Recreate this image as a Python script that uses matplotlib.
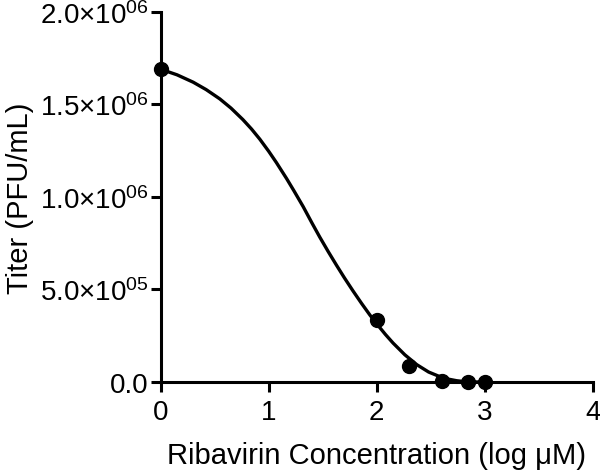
import matplotlib
matplotlib.use('Agg')
import matplotlib.pyplot as plt

plt.rcParams['font.family'] = ['Liberation Sans', 'DejaVu Sans']
plt.rcParams['mathtext.fontset'] = 'custom'
plt.rcParams['mathtext.rm'] = 'Liberation Sans'
plt.rcParams['mathtext.it'] = 'Liberation Sans:italic'

# measured points
conc = [0.0, 2.0, 2.3, 2.6, 2.84, 3.0]
titer = [1.69e6, 3.35e5, 8.6e4, 5e3, 0.0, 0.0]

# fitted curve
curve_x = [0.0, 0.15, 0.30, 0.42, 0.546, 0.65, 0.76, 0.84, 0.917, 1.0,
           1.07, 1.164, 1.23, 1.318, 1.40, 1.472, 1.55, 1.627, 1.70, 1.78,
           1.86, 1.935, 2.0, 2.08, 2.15, 2.26, 2.37, 2.48, 2.58, 2.66,
           2.74, 2.82, 2.9, 3.0]
curve_y = [1.69e6, 1.66e6, 1.62e6, 1.58e6, 1.53e6, 1.48e6, 1.418e6,
           1.367e6, 1.312e6, 1.246e6, 1.186e6, 1.10e6, 1.036e6, 0.948e6,
           0.859e6, 0.783e6, 0.705e6, 0.631e6, 0.563e6, 0.492e6, 0.424e6,
           0.363e6, 0.314e6, 0.257e6, 0.211e6, 0.147e6, 0.094e6, 0.054e6,
           0.030e6, 0.016e6, 0.007e6, 0.002e6, 0.0004e6, 0.0]

yticks = [0, 5e5, 1e6, 1.5e6, 2e6]
ytick_labels = ['0.0', '5.0×10$^{05}$', '1.0×10$^{06}$', '1.5×10$^{06}$',
                '2.0×10$^{06}$']

fig = plt.figure(figsize=(6, 4.77), dpi=100)
ax = fig.add_axes([0.268, 0.197, 0.72, 0.776])

ax.plot(curve_x, curve_y, color='black', lw=2.4, clip_on=False,
        solid_joinstyle='round')
ax.plot(conc, titer, 'o', color='black', ms=10, clip_on=False, zorder=5)

ax.set_xlim(0, 4)
ax.set_ylim(0, 2e6)
ax.set_xticks([0, 1, 2, 3, 4])
ax.set_yticks(yticks)
ax.set_yticklabels(ytick_labels)

for s in ['top', 'right']:
    ax.spines[s].set_visible(False)
for s in ['left', 'bottom']:
    ax.spines[s].set_linewidth(2.2)
ax.tick_params(width=2.2, length=7, labelsize=20, direction='out')
ax.tick_params(axis='x', pad=5)
ax.tick_params(axis='y', pad=2)

ax.set_xlabel('Ribavirin Concentration (log μM)', fontsize=21, labelpad=12)
ax.set_ylabel('Titer (PFU/mL)', fontsize=21, labelpad=4)

fig.savefig('out.png', dpi=100)
